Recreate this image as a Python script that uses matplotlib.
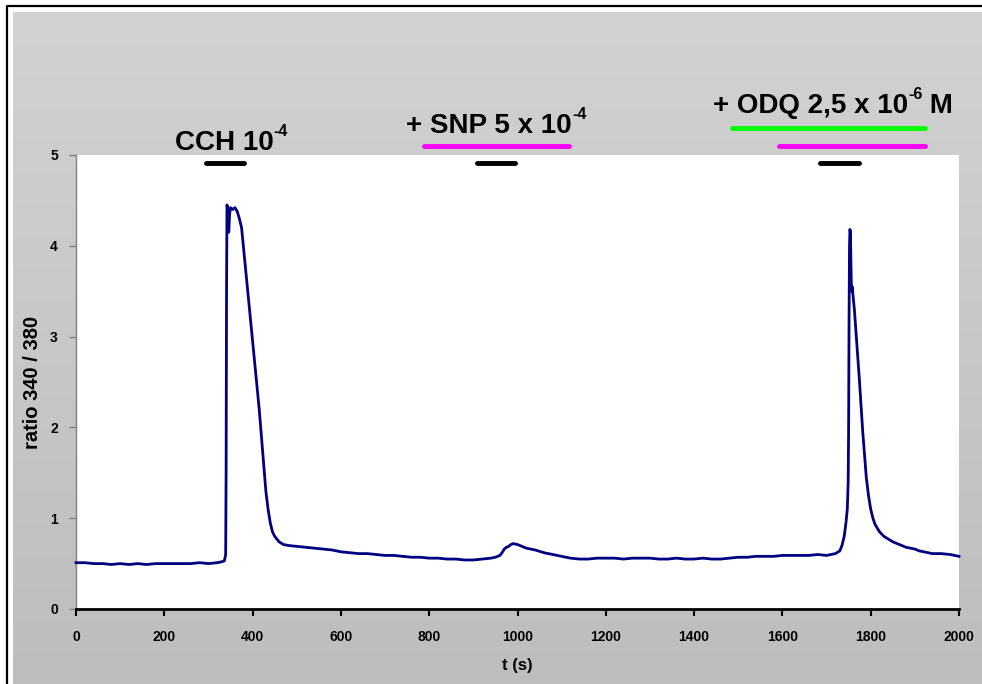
import matplotlib
matplotlib.use("Agg")
import matplotlib.pyplot as plt
import numpy as np
from matplotlib import font_manager
from matplotlib.transforms import offset_copy

names = {f.name for f in font_manager.fontManager.ttflist}
FONT = "Liberation Sans Narrow" if "Liberation Sans Narrow" in names else "Liberation Sans"
plt.rcParams['font.family'] = [FONT, 'DejaVu Sans']

# ---- data ----
t_s = [0, 20, 40, 60, 80, 100, 120, 140, 160, 180, 200, 220, 240, 260, 280, 300, 320, 330, 336,
       339, 340, 341, 342, 344, 346, 348, 350, 355, 360, 365, 370, 375, 380, 385, 390, 395, 400,
       405, 410, 415, 420, 425, 430, 435, 440, 445, 450, 460, 470, 480, 500, 520, 540, 560, 580,
       600, 620, 640, 660, 680, 700, 720, 740, 760, 780, 800, 820, 840, 860, 880, 900, 920, 940,
       950, 960, 965, 970, 975, 980, 985, 990, 1000, 1010, 1020, 1040, 1060, 1080, 1100, 1120,
       1140, 1160, 1180, 1200, 1220, 1240, 1260, 1280, 1300, 1320, 1340, 1360, 1380, 1400, 1420,
       1440, 1460, 1480, 1500, 1520, 1540, 1560, 1580, 1600, 1620, 1640, 1660, 1680, 1700, 1710,
       1720, 1730, 1735, 1740, 1744, 1747, 1749, 1750, 1751, 1752, 1753, 1754, 1755, 1756, 1757,
       1758, 1760, 1763, 1766, 1770, 1774, 1778, 1782, 1786, 1790, 1795, 1800, 1805, 1810, 1820,
       1830, 1840, 1850, 1860, 1870, 1880, 1890, 1900, 1910, 1920, 1930, 1940, 1960, 1980, 2000]
ratio = [0.51, 0.51, 0.50, 0.50, 0.49, 0.50, 0.49, 0.50, 0.49, 0.50, 0.50, 0.50, 0.50, 0.50, 0.51, 0.50, 0.51, 0.52, 0.53,
         0.60, 1.50, 3.50, 4.45, 4.40, 4.15, 4.35, 4.42, 4.40, 4.42, 4.38, 4.30, 4.20, 3.95, 3.70, 3.45, 3.20, 2.95,
         2.70, 2.45, 2.20, 1.90, 1.60, 1.30, 1.10, 0.95, 0.85, 0.80, 0.74, 0.71, 0.70, 0.69, 0.68, 0.67, 0.66, 0.65,
         0.63, 0.62, 0.61, 0.61, 0.60, 0.59, 0.59, 0.58, 0.57, 0.57, 0.56, 0.56, 0.55, 0.55, 0.54, 0.54, 0.55, 0.56,
         0.57, 0.59, 0.62, 0.66, 0.68, 0.69, 0.71, 0.72, 0.71, 0.69, 0.67, 0.65, 0.62, 0.60, 0.58, 0.56,
         0.55, 0.55, 0.56, 0.56, 0.56, 0.55, 0.56, 0.56, 0.56, 0.55, 0.55, 0.56, 0.55, 0.55, 0.56,
         0.55, 0.55, 0.56, 0.57, 0.57, 0.58, 0.58, 0.58, 0.59, 0.59, 0.59, 0.59, 0.60, 0.59, 0.60,
         0.61, 0.64, 0.70, 0.80, 0.95, 1.10, 1.40, 2.00, 3.20, 4.00, 4.18, 4.15, 3.90, 3.60, 3.50,
         3.55, 3.45, 3.30, 3.10, 2.85, 2.55, 2.25, 1.95, 1.70, 1.45, 1.25, 1.10, 1.00, 0.93, 0.85,
         0.80, 0.77, 0.74, 0.72, 0.70, 0.68, 0.67, 0.66, 0.64, 0.63, 0.62, 0.61, 0.61, 0.60, 0.58]

x_ticks = [0, 200, 400, 600, 800, 1000, 1200, 1400, 1600, 1800, 2000]
y_ticks = [0, 1, 2, 3, 4, 5]

# application bars: (start, end, level, color)
bars = [
    (294, 380, 4.91, 'black'),
    (788, 1117, 5.10, '#ff00ff'),
    (908, 994, 4.91, 'black'),
    (1486, 1923, 5.30, '#00ff00'),
    (1592, 1923, 5.10, '#ff00ff'),
    (1685, 1773, 4.91, 'black'),
]
# labels: (center x, baseline y, main text, superscript, tail)
labels = [
    (352, 5.055, 'CCH 10', '-4', ''),
    (952, 5.24, '+ SNP 5 x 10', '-4', ''),
    (1715, 5.46, '+ ODQ 2,5 x 10', '-6', ' M'),
]

W, H = 982, 684
fig = plt.figure(figsize=(W / 100, H / 100), dpi=100, facecolor='white')

# background: gray gradient panel and black border lines
bg = fig.add_axes([0, 0, 1, 1], zorder=-10)
bg.set_xlim(0, W)
bg.set_ylim(H, 0)
bg.axis('off')
grad = np.linspace(0, 1, 256).reshape(-1, 1)
bg.imshow(grad, extent=[13, W, H, 12], aspect='auto',
          cmap=matplotlib.colors.LinearSegmentedColormap.from_list('g', ['#d2d2d2', '#bdbdbd']),
          interpolation='bicubic')
bg.plot([7, 7, W], [H, 6, 6], color='black', lw=1.6, solid_capstyle='butt')

ax = fig.add_axes([76 / W, (H - 609) / H, (959 - 76) / W, (609 - 155) / H])
ax.set_facecolor('white')
ax.plot(t_s, ratio, color='#000080', lw=2.0, clip_on=False, zorder=3)

ax.set_xlim(0, 2000)
ax.set_ylim(0, 5)
ax.set_xticks(x_ticks)
ax.set_yticks(y_ticks)
ax.set_xticklabels([str(v) for v in x_ticks], fontsize=10, fontweight='bold')
ax.set_yticklabels([str(v) for v in y_ticks], fontsize=10, fontweight='bold')
for s in ['top', 'right']:
    ax.spines[s].set_visible(False)
ax.spines['left'].set_color('#808080')
ax.spines['left'].set_linewidth(1.0)
ax.spines['bottom'].set_color('black')
ax.spines['bottom'].set_linewidth(2.0)
ax.tick_params(axis='x', direction='out', length=5, width=1.5, pad=10, color='black')
ax.tick_params(axis='y', direction='out', length=5, width=1.0, pad=8, color='#808080')

ax.set_xlabel('t (s)', fontsize=12, fontweight='bold')
ax.set_ylabel('ratio 340 / 380', fontsize=14.5, fontweight='bold')
ax.xaxis.set_label_coords(0.5, -(658 - 609) / 454)
ax.yaxis.set_label_coords(-(76 - 42) / 883, 0.50)

for x0, x1, lev, c in bars:
    ax.plot([x0, x1], [lev, lev], color=c, lw=3.5, solid_capstyle='round', clip_on=False, zorder=4)

# labels with real superscripts (hyphen, smaller, raised)
MAIN_FS, SUP_FS, RAISE = 20, 11.5, 14
fig.canvas.draw()
r = fig.canvas.get_renderer()
for xc, yc, main, sup, tail in labels:
    t1 = ax.text(xc, yc, main, ha='left', va='baseline', fontsize=MAIN_FS, fontweight='bold', clip_on=False)
    t2 = ax.text(xc, yc, sup, ha='left', va='baseline', fontsize=SUP_FS, fontweight='bold', clip_on=False)
    t3 = ax.text(xc, yc, tail, ha='left', va='baseline', fontsize=MAIN_FS, fontweight='bold', clip_on=False)
    w1 = t1.get_window_extent(r).width if main else 0
    w2 = t2.get_window_extent(r).width if sup else 0
    w3 = t3.get_window_extent(r).width if tail else 0
    total = w1 + w2 + w3
    start = -total / 2
    t1.set_transform(offset_copy(ax.transData, fig=fig, x=start, y=0, units='dots'))
    t2.set_transform(offset_copy(ax.transData, fig=fig, x=start + w1, y=RAISE, units='dots'))
    t3.set_transform(offset_copy(ax.transData, fig=fig, x=start + w1 + w2, y=0, units='dots'))

fig.savefig('out.png', dpi=100, facecolor='white')
